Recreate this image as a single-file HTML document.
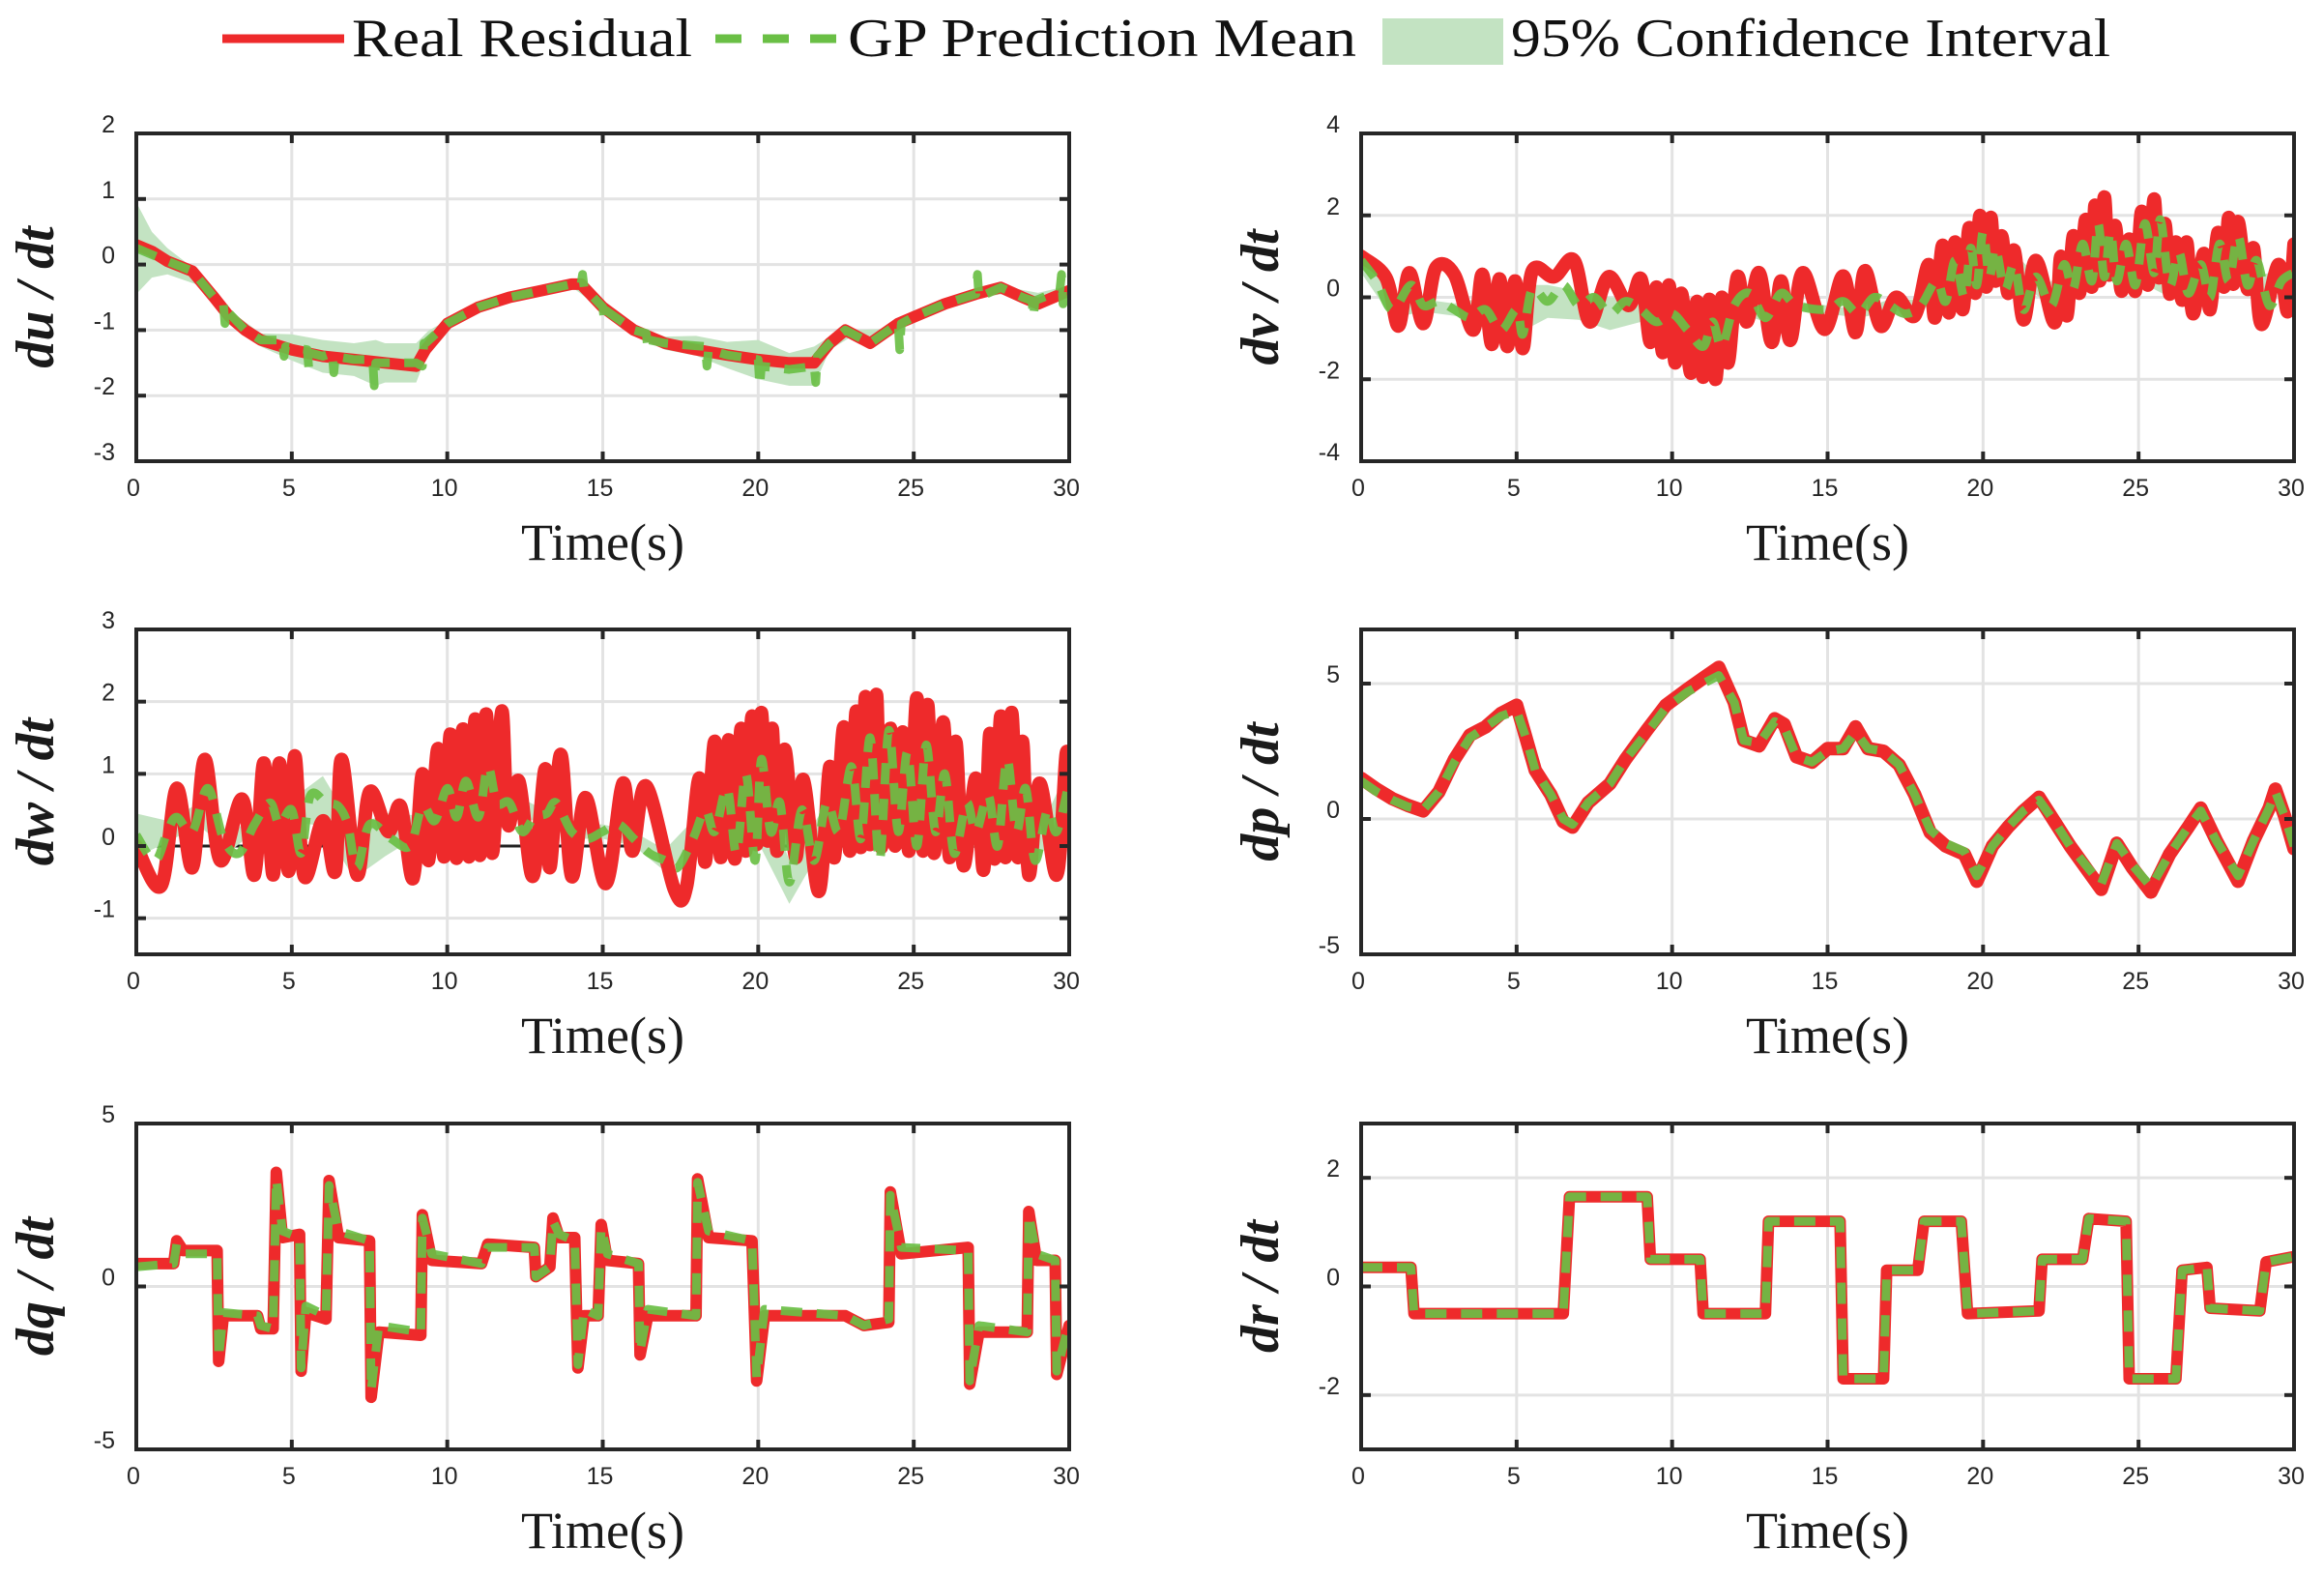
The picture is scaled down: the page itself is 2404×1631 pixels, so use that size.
<!DOCTYPE html>
<html><head><meta charset="utf-8">
<style>
html,body{margin:0;padding:0;background:#fff;}
svg{display:block;}
.tick{font-family:"Liberation Sans",Arial,sans-serif;font-size:25px;fill:#262626;}
.xl{font-family:"Liberation Serif",serif;font-size:54px;fill:#1a1a1a;}
.yl{font-family:"Liberation Serif",serif;font-style:italic;font-weight:bold;font-size:56px;fill:#1a1a1a;}
.leg{font-family:"Liberation Serif",serif;font-size:56px;fill:#111;}
</style></head>
<body>
<svg id="fig" width="2404" height="1631" viewBox="0 0 2404 1631" xmlns="http://www.w3.org/2000/svg">
<g>
  <line x1="230" y1="40" x2="356" y2="40" stroke="#ee2a2b" stroke-width="9"/>
  <text class="leg" x="364" y="58" textLength="352" lengthAdjust="spacingAndGlyphs">Real Residual</text>
  <line x1="740" y1="40" x2="870" y2="40" stroke="#6abf45" stroke-width="9" stroke-dasharray="27,22"/>
  <text class="leg" x="877" y="58" textLength="526" lengthAdjust="spacingAndGlyphs">GP Prediction Mean</text>
  <rect x="1430" y="19" width="125" height="48" fill="#c3e3c2"/>
  <text class="leg" x="1563" y="58" textLength="620" lengthAdjust="spacingAndGlyphs">95% Confidence Interval</text>
</g>
</svg>
<script>
// ---------- du/dt ----------
const duT   = [0,0.5,1,1.8,2.5,3,3.5,4,5,6,7,8,9,9.3,10,11,12,13,14,14.3,15,16,17,18,19,20,21,21.8,22.3,22.8,23.6,24.5,25,26,27,27.8,28.5,29,30];
const duReal= [0.3,0.2,0.05,-0.1,-0.5,-0.8,-1.0,-1.15,-1.3,-1.4,-1.45,-1.5,-1.55,-1.3,-0.9,-0.65,-0.5,-0.4,-0.3,-0.3,-0.65,-1.0,-1.2,-1.3,-1.38,-1.45,-1.5,-1.5,-1.2,-1.0,-1.2,-0.9,-0.8,-0.6,-0.45,-0.35,-0.5,-0.6,-0.4];
const duGpT = [0,0.5,1,1.8,2.5,2.8,2.85,2.9,3.5,4,4.7,4.75,4.8,5.5,5.55,5.6,6,6.3,6.35,6.4,7,7.6,7.65,7.7,8,9,9.2,9.25,9.3,10,11,12,13,14,14.3,14.35,14.4,15,15.05,15.1,16,16.4,16.45,16.5,17,18.3,18.35,18.4,19,20,20.05,20.1,21,21.8,21.85,21.9,22.3,22.8,23.6,24.5,24.55,24.6,25,26,27,27.05,27.1,27.8,28.5,28.8,28.85,28.9,29.7,29.75,29.8,30];
const duGp  = [0.25,0.15,0.05,-0.1,-0.5,-0.6,-0.9,-0.7,-1.0,-1.15,-1.15,-1.4,-1.25,-1.3,-1.6,-1.35,-1.4,-1.35,-1.65,-1.4,-1.45,-1.45,-1.85,-1.5,-1.5,-1.5,-1.55,-1.2,-1.2,-0.9,-0.65,-0.5,-0.4,-0.3,-0.3,-0.15,-0.35,-0.65,-0.85,-0.7,-1.0,-1.05,-1.3,-1.15,-1.2,-1.25,-1.55,-1.3,-1.38,-1.45,-1.85,-1.55,-1.6,-1.55,-1.8,-1.4,-1.2,-1.0,-1.2,-0.9,-1.3,-0.9,-0.8,-0.6,-0.45,-0.15,-0.5,-0.35,-0.5,-0.55,-0.8,-0.55,-0.4,-0.15,-0.6,-0.4];
const duCiT = [0,0.5,1,2,2.5,3,4,5,6,7,7.7,8,9,9.4,10,12,14,15,16,17,18,19,20,21,21.8,22.3,23,24,25,26,27,28,29,30];
const duCiW = [0.7,0.35,0.2,0.1,0.05,0.05,0.1,0.2,0.25,0.25,0.35,0.3,0.3,0.15,0.05,0.04,0.04,0.05,0.08,0.1,0.15,0.2,0.3,0.25,0.3,0.1,0.05,0.08,0.05,0.04,0.06,0.05,0.1,0.08];

// ---------- dv/dt ----------
const dvT = [0,0.8,1.2,1.55,2.0,2.4,3.0,3.6,3.9,4.2,4.45,4.7,4.95,5.2,5.5,6.2,6.85,7.35,7.95,8.6,9.0,9.3,9.5,9.7,9.9,10.1,10.3,10.6,10.8,11.0,11.2,11.4,11.6,11.8,12.1,12.4,12.8,13.2,13.5,13.8,14.2,14.9,15.5,15.9,16.2,16.7,17.2,17.8,18.25,18.45,18.7,18.9,19.1,19.35,19.55,19.75,19.9,20.1,20.25,20.4,20.6,20.8,21.0,21.3,21.7,22.3,22.5,22.7,22.9,23.1,23.3,23.5,23.6,23.75,23.9,24.05,24.25,24.45,24.7,24.9,25.1,25.3,25.5,25.65,25.85,26.0,26.2,26.4,26.55,26.75,27.1,27.3,27.55,27.75,27.9,28.05,28.2,28.5,28.7,28.95,29.5,29.8,30];
const dvReal = [1.0,0.48,-0.7,0.6,-0.64,0.72,0.55,-0.8,0.56,-1.15,0.45,-1.2,0.4,-1.25,0.64,0.5,0.9,-0.6,0.5,-0.2,0.45,-1.1,0.25,-1.35,0.3,-1.6,0.1,-1.85,-0.1,-1.95,-0.05,-2.0,0,-1.6,0.5,-0.6,0.6,-1.1,0.4,-1.05,0.6,-0.78,0.52,-0.86,0.65,-0.7,0,-0.45,0.8,-0.5,1.27,-0.38,1.35,-0.3,1.7,0.1,2.0,0.25,1.95,0.4,1.5,0.1,1.15,-0.55,0.9,-0.62,1.0,-0.45,1.5,0.1,1.9,0.25,2.25,0.4,2.45,0.55,1.75,0.15,1.42,0.15,2.1,0.3,2.4,0.48,1.8,0.08,1.35,-0.07,1.35,-0.4,1.07,-0.3,1.58,0.25,1.95,0.32,1.85,0.2,1.2,-0.66,0.8,-0.35,1.3];
const dvGpT = [0,0.5,1,1.6,2,2.5,3,3.5,4,4.5,5,5.2,5.5,6,6.5,7,7.5,8,8.5,9,9.5,10,10.5,11,11.3,11.6,12,12.5,13,13.5,14,15,15.5,16,16.5,17,17.5,18,18.5,18.8,19.1,19.4,19.6,19.8,20.0,20.2,20.4,20.7,21.0,21.3,21.7,22.2,22.6,22.9,23.2,23.5,23.7,23.9,24.1,24.3,24.6,24.9,25.2,25.5,25.7,26.0,26.3,26.6,27.0,27.3,27.6,27.9,28.2,28.5,28.8,29.2,29.6,30];
const dvGp = [0.9,0.4,-0.3,0.3,-0.2,-0.1,-0.3,-0.5,-0.3,-0.8,-0.3,-0.9,0.2,-0.1,0.3,-0.2,0,-0.4,-0.1,-0.3,-0.6,-0.4,-0.8,-1.2,-0.6,-1.2,-0.2,0.1,-0.5,0.1,-0.2,-0.3,-0.1,-0.4,0,-0.2,-0.4,-0.2,0.4,-0.1,0.9,0,1.2,0.3,1.6,0.5,1.2,0.2,0.8,-0.3,0.5,-0.2,0.8,0.2,1.3,0.4,1.8,0.5,1.6,0.4,1.3,0.3,1.8,0.6,1.9,0.3,1.1,0.1,0.8,0.0,1.3,0.4,1.5,0.3,0.9,-0.2,0.4,0.6];
const dvCiT = [0,1,2,3,4,5,6,7,8,9,10,11,12,13,14,15,16,17,18,19,20,21,22,23,24,25,26,27,28,29,30];
const dvCiW = [0.3,0.2,0.15,0.15,0.3,0.6,0.4,0.35,0.4,0.3,0.2,0.2,0.15,0.1,0.1,0.1,0.1,0.15,0.15,0.3,0.45,0.3,0.2,0.3,0.45,0.4,0.3,0.25,0.3,0.2,0.2];

// ---------- dw/dt ----------
const dwT = [0,0.8,1.3,1.8,2.2,2.7,3.4,3.8,4.1,4.4,4.6,4.9,5.1,5.4,6.0,6.4,6.6,7.1,7.5,8.1,8.5,8.9,9.2,9.4,9.7,9.9,10.1,10.3,10.5,10.7,10.9,11.05,11.25,11.45,11.75,11.95,12.3,12.75,13.15,13.3,13.65,14.0,14.45,15.1,15.65,15.95,16.4,17.3,17.7,18.1,18.3,18.6,18.8,19.05,19.25,19.45,19.6,19.8,19.95,20.1,20.3,20.45,20.6,20.85,21.2,21.45,21.95,22.3,22.45,22.75,22.95,23.15,23.3,23.45,23.6,23.8,23.95,24.25,24.4,24.65,24.85,25.1,25.3,25.45,25.65,25.95,26.15,26.35,26.6,27.0,27.25,27.45,27.6,27.8,27.95,28.15,28.35,28.5,28.7,29.05,29.6,29.9,30];
const dwReal = [0,-0.55,0.8,-0.3,1.2,-0.2,0.65,-0.4,1.15,-0.4,1.15,-0.35,1.25,-0.42,0.35,-0.35,1.2,-0.4,0.75,0.2,0.55,-0.45,1.0,-0.2,1.35,-0.15,1.55,-0.17,1.62,-0.15,1.76,-0.13,1.83,-0.1,1.87,0.3,0.9,-0.42,1.07,-0.3,1.27,-0.42,0.67,-0.52,0.87,-0.07,0.83,-0.6,-0.55,0.94,-0.22,1.45,-0.16,1.47,-0.18,1.63,-0.07,1.8,0.02,1.85,0.07,1.63,-0.07,1.34,-0.16,0.92,-0.63,1.1,-0.16,1.65,-0.07,1.87,-0.02,2.07,0.02,2.1,-0.02,1.63,0,1.58,-0.07,2.05,-0.07,1.96,-0.1,1.72,-0.16,1.45,-0.27,0.94,-0.33,1.56,-0.18,1.8,-0.16,1.85,-0.16,1.45,-0.4,0.87,-0.4,1.27,0.8];
const dwGpT = [0,0.6,1,1.3,1.8,2.3,2.8,3.3,3.8,4.3,4.6,5,5.3,5.6,6.1,6.5,6.8,7.1,7.5,8.2,8.8,9.2,9.6,10,10.3,10.6,11,11.3,11.6,12,12.4,12.8,13.2,13.5,14,14.5,15,15.5,16,16.5,17,17.4,17.9,18.3,18.6,19,19.3,19.6,19.9,20.1,20.4,20.7,21,21.4,21.8,22.2,22.6,23,23.3,23.6,23.9,24.2,24.5,24.8,25.1,25.4,25.7,26,26.3,26.7,27,27.4,27.7,28,28.3,28.6,28.9,29.3,29.6,30];
const dwGp = [0.15,-0.2,0.2,0.4,0.2,0.8,0.1,-0.1,0.3,0.6,0.3,0.5,-0.1,0.7,0.6,0.55,0.3,-0.3,0.3,0.1,0.0,0.55,0.35,0.8,0.4,0.9,0.4,1.1,0.6,0.6,0.2,0.4,0.45,0.6,0.2,0.1,0.2,0.3,0.1,-0.1,-0.2,-0.3,0.1,0.5,0.2,0.8,-0.1,1.0,-0.2,1.2,0.2,0.6,-0.5,0.5,-0.2,0.6,0.2,1.1,0.1,1.5,-0.2,1.6,0.2,1.3,0.0,1.4,0.2,1.0,-0.1,0.6,0.2,0.7,0.0,1.2,0.2,0.8,-0.2,0.5,0.2,0.9];
const dwCiT = [0,1,2,3,4,5,6,7,8,9,10,11,12,13,14,15,16,17,18,19,20,21,22,23,24,25,26,27,28,29,30];
const dwCiW = [0.3,0.15,0.15,0.1,0.15,0.15,0.35,0.35,0.3,0.15,0.15,0.2,0.15,0.1,0.1,0.1,0.1,0.15,0.2,0.3,0.45,0.3,0.25,0.35,0.45,0.4,0.3,0.25,0.3,0.2,0.2];

// ---------- dp/dt ----------
const dpT = [0,0.5,1,1.5,2,2.5,3,3.5,4,4.5,5,5.3,5.6,6.1,6.5,6.8,7.3,8,8.5,9.2,9.8,10.5,11,11.5,12,12.3,12.8,13.3,13.6,14,14.5,15,15.5,15.9,16.3,16.8,17.3,17.8,18.3,18.8,19.4,19.8,20.3,20.8,21.3,21.8,22.3,22.8,23.3,23.8,24.3,24.8,25.4,26,26.6,27,27.5,28.2,28.7,29.2,29.4,29.7,30];
const dpReal = [1.5,1.1,0.75,0.5,0.3,1.0,2.2,3.1,3.4,3.9,4.2,3.0,1.8,0.9,-0.1,-0.3,0.6,1.3,2.2,3.3,4.2,4.8,5.2,5.6,4.3,2.9,2.7,3.7,3.5,2.3,2.1,2.6,2.6,3.4,2.6,2.5,2.0,0.9,-0.5,-1.0,-1.3,-2.3,-1.0,-0.3,0.3,0.8,-0.1,-1.0,-1.8,-2.6,-0.9,-1.8,-2.7,-1.3,-0.3,0.4,-0.8,-2.3,-0.8,0.4,1.1,0.1,-1.1];
const dpGp = [1.4,1.0,0.7,0.45,0.35,1.0,2.1,3.0,3.4,3.8,4.0,3.0,1.8,0.9,0.0,-0.2,0.6,1.3,2.2,3.2,4.1,4.7,5.0,5.3,4.3,2.9,2.8,3.6,3.4,2.3,2.1,2.5,2.6,3.2,2.6,2.5,2.0,0.9,-0.4,-0.9,-1.2,-2.1,-1.0,-0.3,0.3,0.7,-0.1,-1.0,-1.7,-2.4,-0.9,-1.7,-2.5,-1.3,-0.3,0.3,-0.8,-2.1,-0.8,0.4,1.0,0.1,-1.0];

// ---------- dq/dt ----------
const dqT = [0,1.2,1.3,1.5,2.6,2.65,2.8,3.9,4.0,4.4,4.5,4.7,5.25,5.3,5.45,6.1,6.2,6.5,7.5,7.55,7.8,9.15,9.2,9.5,11.1,11.3,12.8,12.85,13.3,13.4,13.6,14.1,14.2,14.4,14.85,14.95,15.15,16.15,16.2,16.45,18.0,18.05,18.4,19.8,19.95,20.2,22.8,23.4,24.2,24.25,24.6,26.75,26.8,27.1,28.65,28.7,28.95,29.55,29.6,30];
const dqReal = [0.7,0.7,1.4,1.1,1.1,-2.3,-0.9,-0.9,-1.3,-1.3,3.5,1.5,1.6,-2.6,-0.8,-1.0,3.25,1.5,1.4,-3.4,-1.4,-1.5,2.2,0.8,0.7,1.3,1.2,0.3,0.6,2.1,1.5,1.5,-2.5,-0.9,-0.9,1.9,0.8,0.7,-2.1,-0.9,-0.9,3.3,1.5,1.4,-2.9,-0.9,-0.9,-1.2,-1.1,2.9,1.0,1.2,-3.0,-1.4,-1.4,2.3,0.8,0.8,-2.7,-1.2];
const dqGp = [0.6,0.7,1.3,1.0,1.0,-2.2,-0.8,-0.9,-1.2,-1.3,3.3,1.7,1.5,-2.5,-0.6,-0.9,3.1,1.7,1.4,-3.2,-1.2,-1.4,2.1,1.0,0.7,1.2,1.2,0.3,0.6,2.0,1.6,1.4,-2.4,-0.7,-0.9,1.8,1.0,0.7,-2.0,-0.7,-0.9,3.2,1.7,1.4,-2.8,-0.7,-0.9,-1.2,-1.0,2.8,1.2,1.1,-2.9,-1.2,-1.4,2.2,1.0,0.8,-2.6,-1.1];

// ---------- dr/dt ----------
const drT = [0,1.6,1.7,6.5,6.7,9.2,9.3,10.9,11.0,13.0,13.1,15.4,15.5,16.8,16.9,17.9,18.1,19.3,19.5,21.8,21.9,23.2,23.4,24.6,24.7,26.2,26.4,27.2,27.3,28.9,29.1,30];
const drReal = [0.35,0.35,-0.5,-0.5,1.65,1.65,0.5,0.5,-0.5,-0.5,1.2,1.2,-1.7,-1.7,0.3,0.3,1.2,1.2,-0.5,-0.45,0.5,0.5,1.25,1.2,-1.7,-1.7,0.3,0.35,-0.4,-0.45,0.45,0.55];
const drGp = [0.35,0.35,-0.5,-0.5,1.65,1.65,0.5,0.5,-0.5,-0.5,1.2,1.2,-1.7,-1.7,0.3,0.3,1.2,1.2,-0.5,-0.45,0.5,0.5,1.25,1.2,-1.7,-1.7,0.3,0.35,-0.4,-0.45,0.45,0.55];

const xTicks = [0,5,10,15,20,25,30];
const xTickLabels = ["0","5","10","15","20","25","30"];

const NS = "http://www.w3.org/2000/svg";
const fig = document.getElementById("fig");
function mk(tag, attrs, parent){ const e=document.createElementNS(NS,tag); for(const k in attrs) e.setAttribute(k,attrs[k]); (parent||fig).appendChild(e); return e; }

function pathD(pts, smooth){
  if(!smooth) return "M"+pts.map(p=>p[0].toFixed(1)+","+p[1].toFixed(1)).join(" L");
  let d="M"+pts[0][0].toFixed(1)+","+pts[0][1].toFixed(1);
  for(let i=0;i<pts.length-1;i++){
    const p0=pts[i-1]||pts[i], p1=pts[i], p2=pts[i+1], p3=pts[i+2]||p2;
    const c1x=p1[0]+(p2[0]-p0[0])/6, c1y=p1[1]+(p2[1]-p0[1])/6;
    const c2x=p2[0]-(p3[0]-p1[0])/6, c2y=p2[1]-(p3[1]-p1[1])/6;
    d+=" C"+c1x.toFixed(1)+","+c1y.toFixed(1)+" "+c2x.toFixed(1)+","+c2y.toFixed(1)+" "+p2[0].toFixed(1)+","+p2[1].toFixed(1);
  }
  return d;
}

function panel(p){
  const g = mk("g",{});
  
  
  const sx = t => p.x + (t-0)/30*p.w;
  const sy = v => p.y + (p.ymax - v)/(p.ymax-p.ymin)*p.h;
  xTicks.forEach((t,i)=>{
    const l=mk("line",{x1:sx(t),x2:sx(t),y1:p.y,y2:p.y+p.h,stroke:"#e3e3e3","stroke-width":3},g);
    
    
  });
  p.yticks.forEach(v=>{
    const l=mk("line",{x1:p.x,x2:p.x+p.w,y1:sy(v),y2:sy(v),stroke:"#e3e3e3","stroke-width":3},g);
    
    
  });
  if(p.zeroLine){
    const z=mk("line",{x1:p.x,x2:p.x+p.w,y1:sy(0),y2:sy(0),stroke:"#222","stroke-width":3},g);
    
    
  }
  const clipId = "clip-"+p.name;
  const cp = mk("clipPath",{id:clipId},g);
  mk("rect",{x:p.x,y:p.y,width:p.w,height:p.h},cp);
  const data = mk("g",{"clip-path":"url(#"+clipId+")"},g);
  if(p.ciT){
    const interp=(T,V,t)=>{ for(let i=0;i<T.length-1;i++){ if(t>=T[i]&&t<=T[i+1]){ const f=(t-T[i])/((T[i+1]-T[i])||1); return V[i]+f*(V[i+1]-V[i]); } } return V[V.length-1]; };
    const up=[],lo=[];
    p.ciT.forEach((t,i)=>{ const m=interp(p.gT,p.gV,t); up.push(sx(t)+","+sy(m+p.ciW[i])); lo.push(sx(t)+","+sy(m-p.ciW[i])); });
    const band=mk("polygon",{points:up.concat(lo.reverse()).join(" "),fill:"#c3e3c2",stroke:"none"},data);
    
    
  }
  const rpts=p.rT.map((t,i)=>[sx(t),sy(p.rV[i])]);
  const r=mk("path",{d:pathD(rpts,p.smooth),fill:"none",stroke:"#ee2a2b","stroke-width":p.rw||12,"stroke-linejoin":"round","stroke-linecap":"round"},data);
  
  
  const gpts=p.gT.map((t,i)=>[sx(t),sy(p.gV[i])]);
  const gl=mk("path",{d:pathD(gpts,p.smooth),fill:"none",stroke:"#6abf45","stroke-width":9,"stroke-dasharray":"22,15","stroke-linejoin":"round","stroke-opacity":0.92},data);
  
  
  const box=mk("rect",{x:p.x,y:p.y,width:p.w,height:p.h,fill:"none",stroke:"#262626","stroke-width":4},g);
  
  
  xTicks.forEach((t,i)=>{
    mk("line",{x1:sx(t),x2:sx(t),y1:p.y+p.h,y2:p.y+p.h-10,stroke:"#262626","stroke-width":4},g);
    mk("line",{x1:sx(t),x2:sx(t),y1:p.y,y2:p.y+10,stroke:"#262626","stroke-width":4},g);
    const tx=mk("text",{x:sx(t)-3,y:p.y+p.h+36,"text-anchor":"middle",class:"tick"},g);
    tx.textContent=xTickLabels[i];
    
    
  });
  p.yticks.forEach((v,i)=>{
    mk("line",{x1:p.x,x2:p.x+10,y1:sy(v),y2:sy(v),stroke:"#262626","stroke-width":4},g);
    mk("line",{x1:p.x+p.w,x2:p.x+p.w-10,y1:sy(v),y2:sy(v),stroke:"#262626","stroke-width":4},g);
  });
  p.ytickLabels.forEach((s,i)=>{
    const ty=mk("text",{x:p.x-22,y:sy(p.ylabVals[i])-1,"text-anchor":"end",class:"tick"},g);
    ty.textContent=s;
    
    
  });
  const xl=mk("text",{x:p.x+p.w/2,y:p.y+p.h+102,"text-anchor":"middle",class:"xl"},g);
  xl.textContent="Time(s)";
  
  
  const cy=p.y+p.h/2, cx=p.x-86;
  const yl=mk("text",{x:cx,y:cy,"text-anchor":"middle",class:"yl",transform:"rotate(-90 "+cx+" "+cy+")"},g);
  yl.textContent=p.ylabel;
  
  
}

const X1=141, X2=1408, W=965;
const R1=138, R2=651, R3=1162, H1=339, H2=336, H3=337;
panel({name:"du",x:X1,y:R1,w:W,h:H1,ymin:-3,ymax:2,yticks:[-3,-2,-1,0,1,2],ytickLabels:["-3","-2","-1","0","1","2"],ylabVals:[-3,-2,-1,0,1,2],ylabel:"du / dt",rT:duT,rV:duReal,gT:duGpT,gV:duGp,ciT:duCiT,ciW:duCiW});
panel({name:"dv",x:X2,y:R1,w:W,h:H1,ymin:-4,ymax:4,yticks:[-4,-2,0,2,4],ytickLabels:["-4","-2","0","2","4"],ylabVals:[-4,-2,0,2,4],ylabel:"dv / dt",smooth:true,rw:14,rT:dvT,rV:dvReal,gT:dvGpT,gV:dvGp,ciT:dvCiT,ciW:dvCiW});
panel({name:"dw",x:X1,y:R2,w:W,h:H2,ymin:-1.5,ymax:3,yticks:[-1,0,1,2,3],ytickLabels:["-1","0","1","2","3"],ylabVals:[-1,0,1,2,3],ylabel:"dw / dt",zeroLine:true,smooth:true,rw:14,rT:dwT,rV:dwReal,gT:dwGpT,gV:dwGp,ciT:dwCiT,ciW:dwCiW});
panel({name:"dp",x:X2,y:R2,w:W,h:H2,ymin:-5,ymax:7,yticks:[-5,0,5],ytickLabels:["-5","0","5"],ylabVals:[-5,0,5],ylabel:"dp / dt",rw:14,rT:dpT,rV:dpReal,gT:dpT,gV:dpGp});
panel({name:"dq",x:X1,y:R3,w:W,h:H3,ymin:-5,ymax:5,yticks:[-5,0,5],ytickLabels:["-5","0","5"],ylabVals:[-5,0,5],ylabel:"dq / dt",rT:dqT,rV:dqReal,gT:dqT,gV:dqGp});
panel({name:"dr",x:X2,y:R3,w:W,h:H3,ymin:-3,ymax:3,yticks:[-2,0,2],ytickLabels:["-2","0","2"],ylabVals:[-2,0,2],ylabel:"dr / dt",rT:drT,rV:drReal,gT:drT,gV:drGp});
</script>
</body></html>
